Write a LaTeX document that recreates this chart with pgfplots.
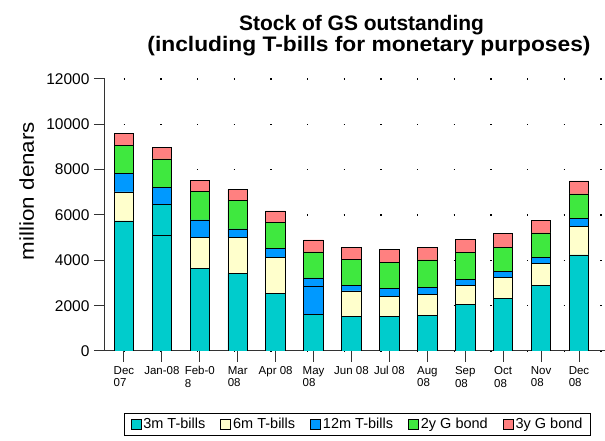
\documentclass[border=0pt]{standalone}
\usepackage{fontspec}
\setmainfont{Liberation Sans}
\usepackage{pgfplots}
\usepackage{pgfplotstable}
\pgfplotsset{compat=1.18}

\definecolor{cThree}{HTML}{00CCCC}
\definecolor{cSix}{HTML}{FFFFCC}
\definecolor{cTwelve}{HTML}{0099FF}
\definecolor{cTwoY}{HTML}{3FE83F}
\definecolor{cThreeY}{HTML}{FF8080}

% stacked segments, million denars (6m issue shown in cyan in Jan-08 and blue in May-08)
\pgfplotstableread{
x  m3   m6   m6c  m6b  m12  y2   y3
0  5736 1279 0    0    825  1227 538
1  5087 0    1385 0    750  1249 516
2  3631 1385 0    0    764  1248 503
3  3428 1571 0    0    384  1248 503
4  2546 1570 0    0    398  1147 516
5  1619 0    0    1218 384  1147 529
6  1514 1133 0    0    235  1147 559
7  1514 883  0    0    353  1162 559
8  1588 898  0    0    323  1206 573
9  2059 838  0    0    250  1206 574
10 2338 912  0    0    265  1073 589
11 2897 956  0    0    265  1088 559
12 4236 1248 0    0    371  1072 573
}\gsdata

\begin{document}
\begin{tikzpicture}
\path[use as bounding box] (-105pt,-90pt) rectangle (500pt,351pt);
\begin{axis}[
  at={(0pt,0pt)}, anchor=south west,
  scale only axis,
  width=500pt, height=272pt,
  ybar stacked, bar width=19.5pt,
  xmin=-0.5, xmax=12.685,
  ymin=0, ymax=12000,
  ytick={0,2000,...,12000},
  scaled y ticks=false,
  yticklabels={0,2000,4000,6000,8000,10000,12000},
  xtick={0,...,12},
  xticklabels={Dec\\07, Jan-08, Feb-0\\8, Mar\\08, Apr 08, May\\08, Jun 08, Jul 08, Aug\\08, Sep\\08, Oct\\08, Nov\\08, Dec\\08},
  axis x line*=bottom, axis y line*=left,
  axis line style={black!80, line width=1pt},
  tick align=outside, major tick length=11pt,
  tick style={black!80, line width=1pt},
  yticklabel style={font=\fontsize{15.5}{18}\selectfont, xshift=-1pt},
  xticklabel style={font=\fontsize{11.5}{12.5}\selectfont, align=left, anchor=north, yshift=-1pt},
  ymajorgrids,
  grid style={black, line width=1.2pt, dash pattern=on 1.2pt off 35.47pt, dash phase=17.97pt},
  every axis plot/.append style={draw=black, line width=0.9pt},
  legend image code/.code={\draw[#1, line width=0.8pt] (0pt,-5pt) rectangle (10pt,5pt);},
  legend style={at={(axis description cs:0.505,-0.2695)}, anchor=center,
    legend columns=5, draw=black, line width=0.8pt,
    font=\fontsize{14.5}{16}\selectfont,
    inner xsep=6pt, inner ysep=3pt,
    /tikz/every even column/.append style={column sep=13pt}},
]
\addplot[fill=cThree] table[x=x, y=m3] {\gsdata};
\addlegendentry{3m T-bills}
\addplot[fill=cSix] table[x=x, y=m6] {\gsdata};
\addlegendentry{6m T-bills}
\addplot[fill=cThree, forget plot] table[x=x, y=m6c] {\gsdata};
\addplot[fill=cTwelve, forget plot] table[x=x, y=m6b] {\gsdata};
\addplot[fill=cTwelve] table[x=x, y=m12] {\gsdata};
\addlegendentry{12m T-bills}
\addplot[fill=cTwoY] table[x=x, y=y2] {\gsdata};
\addlegendentry{2y G bond}
\addplot[fill=cThreeY] table[x=x, y=y3] {\gsdata};
\addlegendentry{3y G bond}
\end{axis}
\node[font=\fontsize{21}{24}\selectfont\bfseries, anchor=base]
  at (256.5pt,320pt) {Stock of GS outstanding};
\node[font=\fontsize{21}{24}\selectfont\bfseries, anchor=base]
  at (264pt,299pt) {\scalebox{1.085}[1]{(including T-bills for monetary purposes)}};
\node[font=\fontsize{20}{24}\selectfont, rotate=90, anchor=center]
  at (-78.3pt,160pt) {\scalebox{1.12}[1]{million denars}};
\end{tikzpicture}
\end{document}
